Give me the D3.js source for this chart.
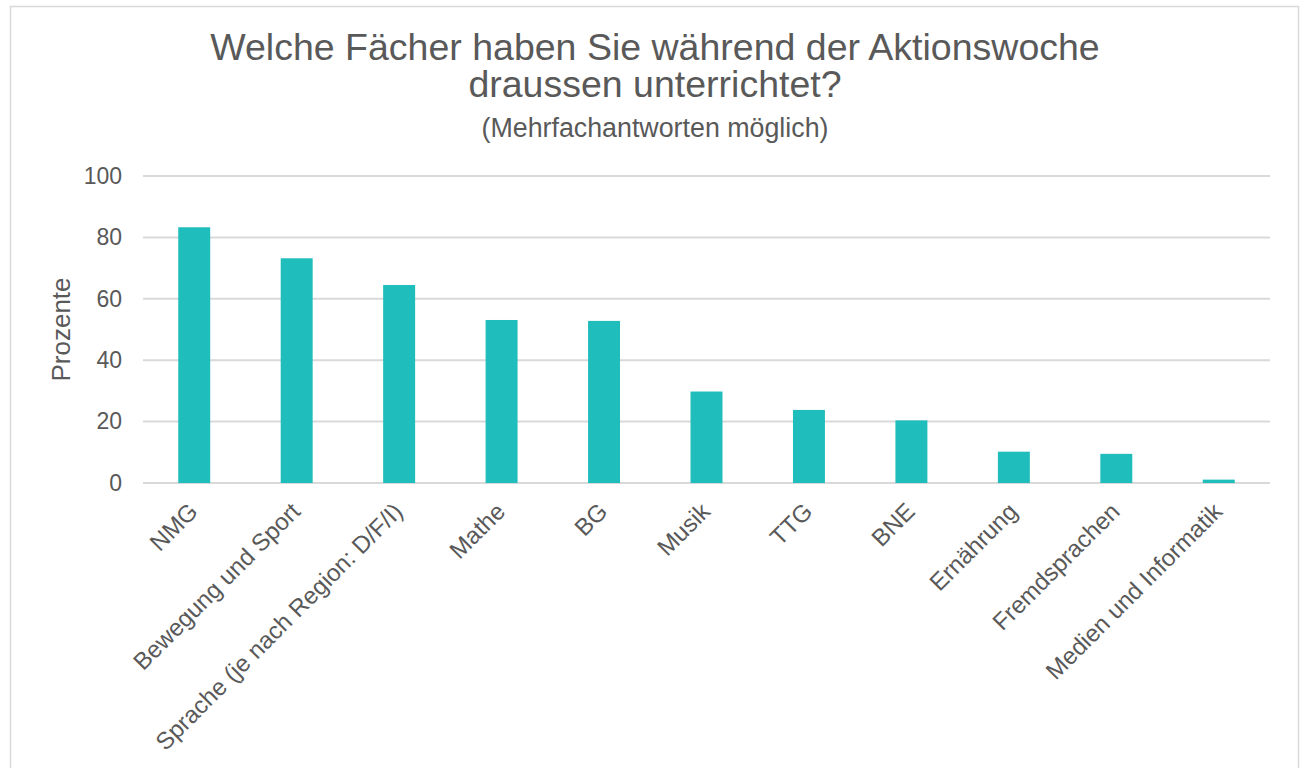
<!DOCTYPE html>
<html>
<head>
<meta charset="utf-8">
<script src="https://cdn.jsdelivr.net/npm/d3@7"></script>
<style>
  body { margin: 0; background: #fff; }
  text { font-family: "Liberation Sans", Arial, sans-serif; fill: #595959; }
</style>
</head>
<body>
<div id="wrapper"></div>
<script>
// data
const subjects = [
  "NMG",
  "Bewegung und Sport",
  "Sprache (je nach Region: D/F/I)",
  "Mathe",
  "BG",
  "Musik",
  "TTG",
  "BNE",
  "Ernährung",
  "Fremdsprachen",
  "Medien und Informatik",
];
const percents = [83.3, 73.2, 64.5, 53.1, 52.8, 29.8, 23.8, 20.4, 10.2, 9.5, 1.1];
const yTicks = [0, 20, 40, 60, 80, 100];
const titleLines = ["Welche Fächer haben Sie während der Aktionswoche", "draussen unterrichtet?"];
const subtitle = "(Mehrfachantworten möglich)";
const yLabel = "Prozente";

const dataset = subjects.map((s, i) => ({ subject: s, value: percents[i] }));

// dimensions
const width = 1302;
const height = 768;
let dimensions = {
  width: width,
  height: height,
  margin: { top: 176, right: 32, bottom: 285, left: 143 },
};
dimensions.boundedWidth = dimensions.width - dimensions.margin.left - dimensions.margin.right;
dimensions.boundedHeight = dimensions.height - dimensions.margin.top - dimensions.margin.bottom;

const wrapper = d3
  .select("#wrapper")
  .append("svg")
  .attr("width", dimensions.width)
  .attr("height", dimensions.height);

// chart frame
wrapper
  .append("rect")
  .attr("x", 10.5)
  .attr("y", 6.5)
  .attr("width", 1288)
  .attr("height", 800)
  .attr("fill", "none")
  .attr("stroke", "#d9d9d9")
  .attr("stroke-width", 1.5);

const bounds = wrapper
  .append("g")
  .attr("transform", `translate(${dimensions.margin.left},${dimensions.margin.top})`);

// scales
const xScale = d3
  .scaleBand()
  .domain(subjects)
  .range([0, dimensions.boundedWidth])
  .paddingInner(0.688)
  .paddingOuter(0.344);

const yScale = d3
  .scaleLinear()
  .domain([0, 100])
  .range([dimensions.boundedHeight, 0]);

// gridlines
bounds
  .append("g")
  .selectAll("line")
  .data(yTicks)
  .join("line")
  .attr("x1", 0)
  .attr("x2", dimensions.boundedWidth)
  .attr("y1", (d) => yScale(d))
  .attr("y2", (d) => yScale(d))
  .attr("stroke", "#d9d9d9")
  .attr("stroke-width", 2);

// y axis labels
const yAxis = d3.axisLeft(yScale).tickValues(yTicks).tickSize(0).tickPadding(21);
const yAxisGroup = bounds.append("g").call(yAxis);
yAxisGroup.select(".domain").remove();
yAxisGroup
  .selectAll("text")
  .style("font-family", '"Liberation Sans", Arial, sans-serif')
  .style("font-size", "23px")
  .attr("fill", "#595959");

// bars
bounds
  .append("g")
  .selectAll("rect")
  .data(dataset)
  .join("rect")
  .attr("x", (d) => xScale(d.subject))
  .attr("width", xScale.bandwidth())
  .attr("y", (d) => yScale(d.value))
  .attr("height", (d) => yScale(0) - yScale(d.value))
  .attr("fill", "#20bdbd");

// x axis labels, rotated
const xAxis = d3.axisBottom(xScale).tickSize(0).tickPadding(0);
const xAxisGroup = bounds
  .append("g")
  .attr("transform", `translate(0,${dimensions.boundedHeight})`)
  .call(xAxis);
xAxisGroup.select(".domain").remove();
xAxisGroup
  .selectAll("text")
  .style("font-family", '"Liberation Sans", Arial, sans-serif')
  .style("font-size", "24px")
  .attr("fill", "#595959")
  .attr("text-anchor", "end")
  .attr("dy", null)
  .attr("y", 0)
  .attr("transform", "translate(5,30) rotate(-45)");

// y axis title
wrapper
  .append("text")
  .attr("transform", `translate(70,${dimensions.margin.top + dimensions.boundedHeight / 2}) rotate(-90)`)
  .attr("text-anchor", "middle")
  .style("font-size", "26px")
  .text(yLabel);

// title
const centerX = 655;
titleLines.forEach((t, i) => {
  wrapper
    .append("text")
    .attr("x", centerX)
    .attr("y", 60 + i * 37)
    .attr("text-anchor", "middle")
    .style("font-size", "37.5px")
    .text(t);
});
wrapper
  .append("text")
  .attr("x", centerX)
  .attr("y", 137)
  .attr("text-anchor", "middle")
  .style("font-size", "26.8px")
  .text(subtitle);
</script>
</body>
</html>
